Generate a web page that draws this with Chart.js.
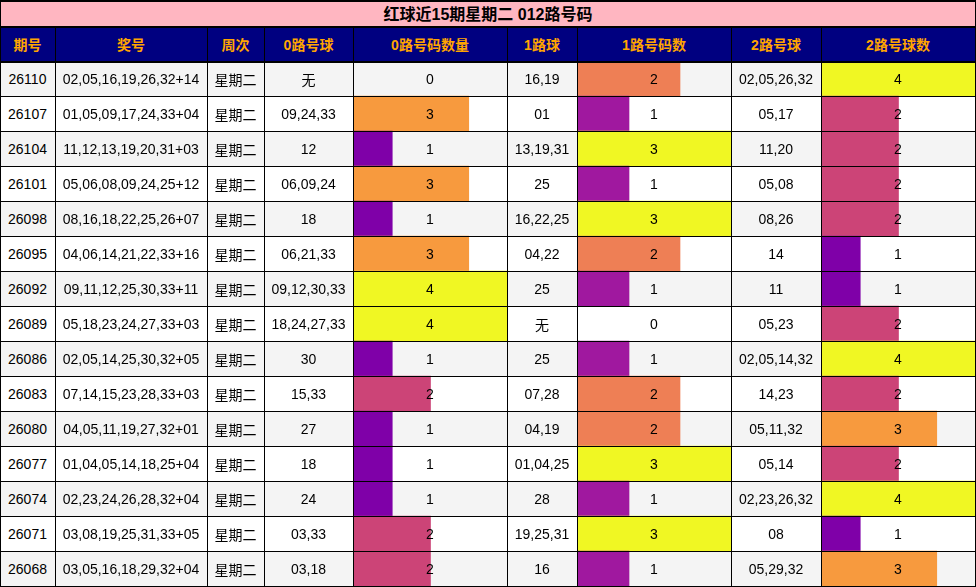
<!DOCTYPE html>
<html><head><meta charset="utf-8">
<script src="https://cdn.jsdelivr.net/npm/chart.js@4/dist/chart.umd.min.js"></script>
<style>
body{margin:0;background:#fff;}
#wrap{position:relative;width:976px;height:587px;overflow:hidden;font-family:"Liberation Sans",Arial,"Noto Sans CJK SC",sans-serif;}
.d{position:absolute;display:flex;align-items:center;justify-content:center;box-sizing:border-box;white-space:nowrap;}
.ln{position:absolute;background:#000;}
canvas{position:absolute;}
</style></head><body><div id="wrap"></div>
<script>
const title = "红球近15期星期二 012路号码";
const headers = ["期号","奖号","周次","0路号球","0路号码数量","1路球","1路号码数","2路号球","2路号球数"];
const periods = ["26110","26107","26104","26101","26098","26095","26092","26089","26086","26083","26080","26077","26074","26071","26068"];
const draws = ["02,05,16,19,26,32+14","01,05,09,17,24,33+04","11,12,13,19,20,31+03","05,06,08,09,24,25+12","08,16,18,22,25,26+07","04,06,14,21,22,33+16","09,11,12,25,30,33+11","05,18,23,24,27,33+03","02,05,14,25,30,32+05","07,14,15,23,28,33+03","04,05,11,19,27,32+01","01,04,05,14,18,25+04","02,23,24,26,28,32+04","03,08,19,25,31,33+05","03,05,16,18,29,32+04"];
const weekday = "星期二";
const zeroBalls = ["无","09,24,33","12","06,09,24","18","06,21,33","09,12,30,33","18,24,27,33","30","15,33","27","18","24","03,33","03,18"];
const zeroCount = [0,3,1,3,1,3,4,4,1,2,1,1,1,2,2];
const oneBalls = ["16,19","01","13,19,31","25","16,22,25","04,22","25","无","25","07,28","04,19","01,04,25","28","19,25,31","16"];
const oneCount = [2,1,3,1,3,2,1,0,1,2,2,3,1,3,1];
const twoBalls = ["02,05,26,32","05,17","11,20","05,08","08,26","14","11","05,23","02,05,14,32","14,23","05,11,32","05,14","02,23,26,32","08","05,29,32"];
const twoCount = [4,2,2,2,2,1,1,2,4,2,3,2,4,1,3];

const W = document.getElementById('wrap');
const colX = [0,55,207,264,353,507,577,731,821,975];
const TOP = 61, RH = 35, N = periods.length;
function add(cls, x, y, w, h, css, txt){const e=document.createElement('div');e.className=cls;Object.assign(e.style,{left:x+'px',top:y+'px',width:w+'px',height:h+'px'},css||{});if(txt!==undefined)e.textContent=txt;W.appendChild(e);return e;}
// backgrounds
add('d',0,0,976,26,{background:'#FFB6C1'});
add('d',0,26,976,35,{background:'#000080'});
for(let i=0;i<N;i++) add('d',0,TOP+i*RH,976,RH,{background:i%2===0?'#F4F4F4':'#FFFFFF'});
// charts
const pal4 = ['#7F00A8','#CC4477','#F79A3E','#F0F723'];
const pal3 = ['#A0189F','#EE7F55','#F0F723'];
function mk(colIdx, data, max, pal){
  const c=document.createElement('canvas');
  const x=colX[colIdx]+1,w=colX[colIdx+1]-colX[colIdx]-1;
  c.width=w;c.height=RH*N;c.style.left=x+'px';c.style.top=TOP+'px';
  W.appendChild(c);
  new Chart(c,{type:'bar',data:{labels:periods,datasets:[{data:data,backgroundColor:data.map(v=>v>0?pal[v-1]:'rgba(0,0,0,0)'),borderWidth:0,categoryPercentage:1,barPercentage:1}]},
   options:{indexAxis:'y',responsive:false,animation:false,devicePixelRatio:1,layout:{padding:0},
    plugins:{legend:{display:false},tooltip:{enabled:false}},
    scales:{x:{display:false,min:0,max:max},y:{display:false}}}});
}
mk(4,zeroCount,4,pal4);
mk(6,oneCount,3,pal3);
mk(8,twoCount,4,pal4);
// text
add('d',0,0,976,26,{fontWeight:'bold',fontSize:'16px',color:'#000'},title);
headers.forEach((h,j)=>add('d',colX[j],26,colX[j+1]-colX[j],35,{fontWeight:'bold',fontSize:'14px',color:'#FFA500'},h));
const cols=[periods,draws,periods.map(()=>weekday),zeroBalls,zeroCount,oneBalls,oneCount,twoBalls,twoCount];
for(let i=0;i<N;i++)cols.forEach((arr,j)=>add('d',colX[j],TOP+i*RH,colX[j+1]-colX[j],RH,{fontSize:'14px',color:'#000'},String(arr[i])));
// lines
[0,26,61].forEach(y=>add('ln',0,y,976,2));
for(let i=1;i<=N;i++)add('ln',0,TOP+i*RH,976,1);
add('ln',0,586,976,1);
colX.forEach(x=>add('ln',x,26,1,561));
add('ln',0,0,1,26);add('ln',975,0,1,26);
</script></body></html>
